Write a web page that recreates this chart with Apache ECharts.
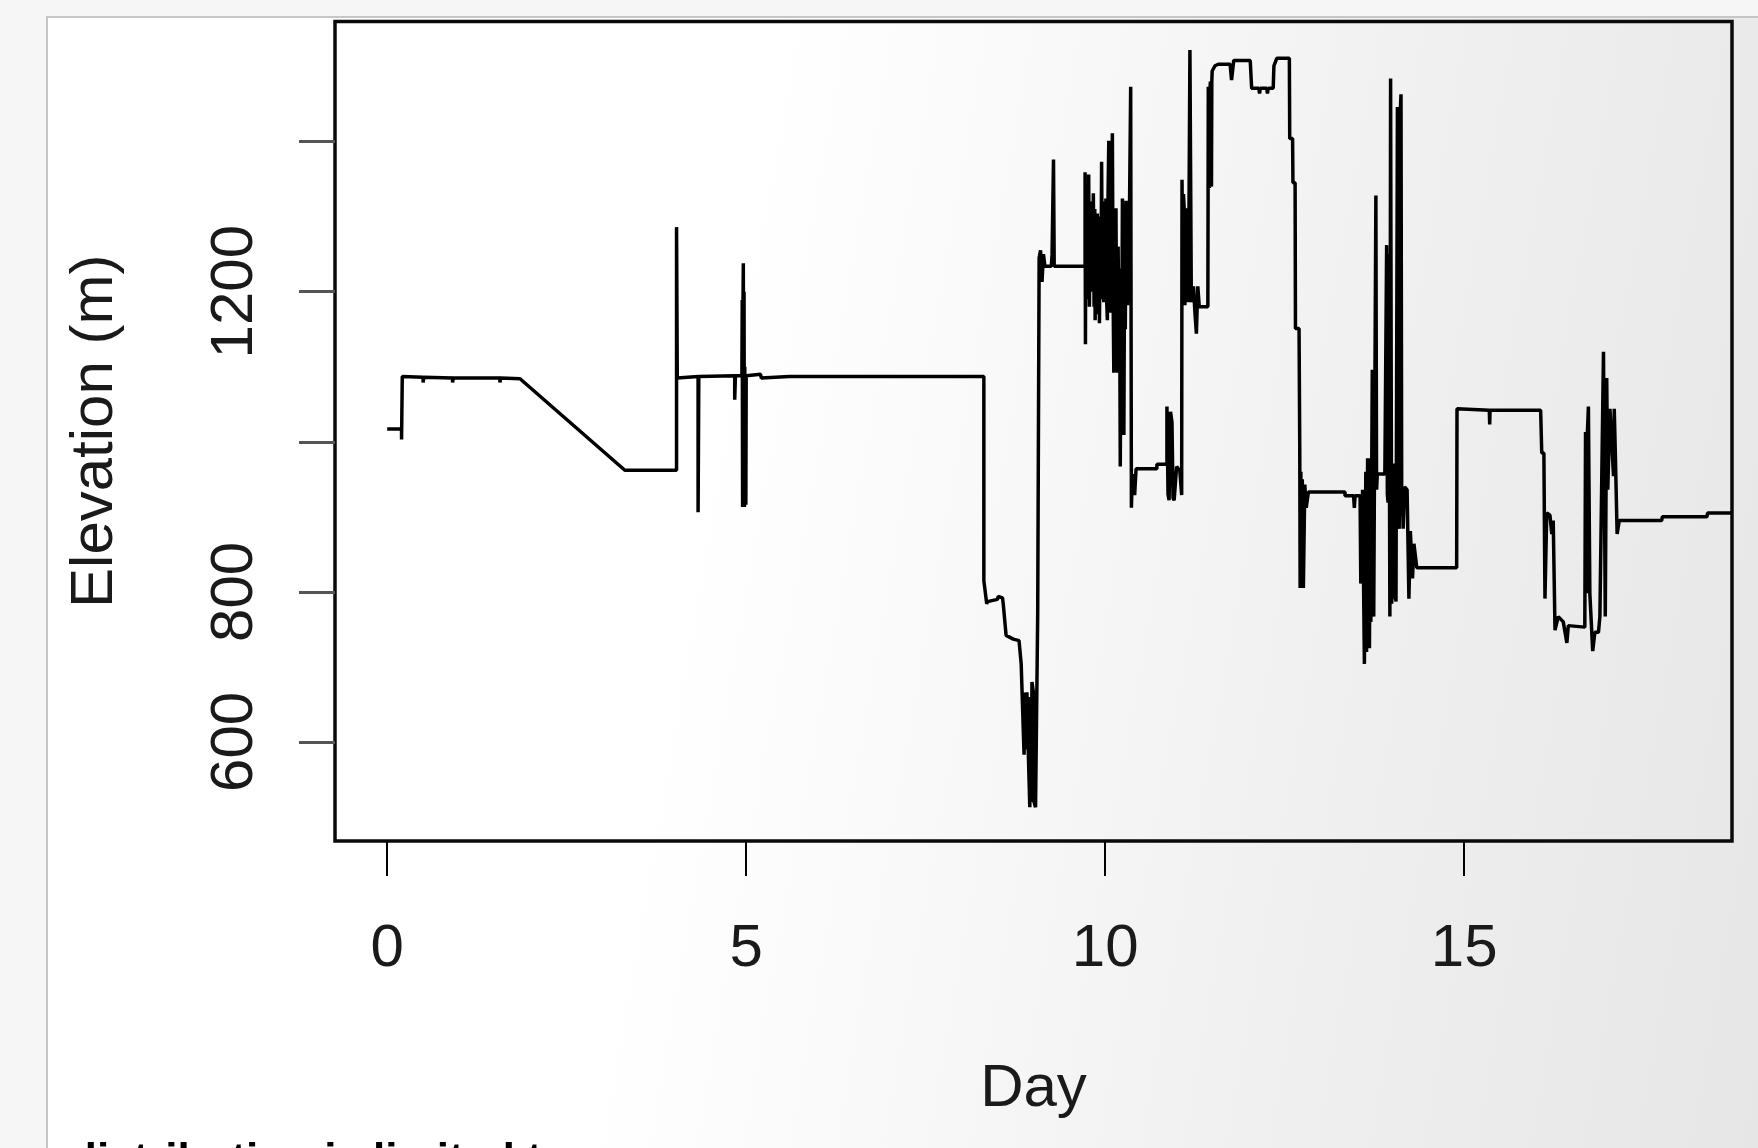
<!DOCTYPE html>
<html>
<head>
<meta charset="utf-8">
<title>Elevation by day</title>
<script src="https://cdn.jsdelivr.net/npm/echarts@6/dist/echarts.min.js"></script>
<style>
  html, body { margin: 0; padding: 0; }
  body { width: 1758px; height: 1148px; position: relative; overflow: hidden; background: #f6f6f6; }
  .sheet {
    position: absolute; left: 46px; top: 16px; right: -10px; bottom: -10px;
    border-left: 2px solid #c6c6c6; border-top: 2px solid #c6c6c6;
    background: linear-gradient(100deg, #ffffff 0%, #ffffff 38%, #f8f8f8 55%, #efefef 75%, #e6e6e6 100%);
  }
  .diagram { position: absolute; left: 0; top: 0; width: 1758px; height: 1148px; }
</style>
</head>
<body>
<div class="sheet"></div>
<div class="diagram"></div>
<script>
// [day, elevation in m]
var days0to4 = [
  [0.00, 1017], [0.20, 1017], [0.20, 1003], [0.21, 1087], [0.50, 1086], [0.50, 1079],
  [0.51, 1086], [0.91, 1085], [0.91, 1079], [0.92, 1085], [1.57, 1085], [1.57, 1079],
  [1.58, 1085], [1.85, 1084], [3.31, 962], [4.03, 962]
];
var days4to8 = [
  [4.03, 1286], [4.04, 1085], [4.33, 1087], [4.33, 906], [4.34, 1087], [4.84, 1088],
  [4.84, 1056], [4.85, 1088], [4.94, 1088], [4.945, 1189], [4.95, 913], [4.955, 1180],
  [4.96, 1238], [4.965, 920], [4.97, 1200], [4.975, 913], [4.98, 1100], [4.985, 930],
  [4.99, 1090], [4.995, 916], [5.00, 1088], [5.20, 1090], [5.21, 1085], [5.60, 1087],
  [8.31, 1087]
];
var days8to10 = [
  [8.31, 815], [8.35, 784], [8.36, 787], [8.50, 790], [8.51, 794], [8.57, 792],
  [8.58, 784], [8.62, 742], [8.72, 737], [8.80, 735], [8.83, 704], [8.87, 583],
  [8.88, 666], [8.89, 590], [8.90, 660], [8.91, 666], [8.93, 583], [8.95, 513],
  [8.96, 660], [8.97, 520], [8.98, 680], [9.00, 666], [9.01, 520], [9.03, 513],
  [9.06, 770], [9.08, 1245], [9.10, 1255], [9.12, 1213], [9.14, 1250], [9.16, 1234],
  [9.25, 1234], [9.26, 1250], [9.28, 1376], [9.29, 1234], [9.72, 1234]
];
var days10to11 = [
  [9.72, 1359], [9.725, 1130], [9.73, 1340], [9.74, 1190], [9.75, 1330], [9.76, 1200],
  [9.77, 1356], [9.78, 1180], [9.79, 1320], [9.80, 1200], [9.81, 1300], [9.82, 1220],
  [9.835, 1331], [9.845, 1180], [9.855, 1310], [9.86, 1162], [9.87, 1290], [9.88, 1200],
  [9.89, 1304], [9.90, 1170], [9.91, 1290], [9.92, 1158], [9.93, 1300], [9.94, 1190],
  [9.95, 1373], [9.96, 1200], [9.97, 1320], [9.98, 1186], [9.99, 1300], [10.00, 1200],
  [10.01, 1324], [10.02, 1190], [10.03, 1162], [10.04, 1330], [10.05, 1401], [10.06, 1190],
  [10.07, 1330], [10.08, 1172], [10.09, 1300], [10.10, 1411], [10.11, 1200], [10.12, 1092],
  [10.13, 1290], [10.14, 1150], [10.15, 1311], [10.16, 1120], [10.17, 1092], [10.18, 1260],
  [10.19, 1150], [10.20, 1231], [10.21, 967], [10.22, 1200], [10.23, 1100], [10.24, 1324],
  [10.25, 1150], [10.26, 1009], [10.27, 1250], [10.28, 1150], [10.29, 1321], [10.30, 1200],
  [10.31, 1182], [10.32, 1240], [10.33, 1227], [10.355, 1473], [10.365, 912], [10.375, 950],
  [10.39, 957], [10.41, 929], [10.43, 964], [10.72, 964], [10.72, 970], [10.86, 970],
  [10.86, 1047], [10.875, 930], [10.89, 922], [10.91, 1040], [10.93, 1026], [10.945, 925],
  [10.96, 922], [10.995, 967], [11.04, 961], [11.065, 929]
];
var days11to13 = [
  [11.07, 1349], [11.08, 1200], [11.09, 1330], [11.10, 1311], [11.11, 1182], [11.12, 1300],
  [11.13, 1190], [11.135, 1311], [11.15, 1200], [11.16, 1186], [11.18, 1522], [11.20, 1186],
  [11.23, 1207], [11.25, 1172], [11.27, 1144], [11.29, 1207], [11.31, 1180], [11.43, 1180],
  [11.436, 1473], [11.445, 1350], [11.45, 1338], [11.46, 1470], [11.465, 1480], [11.47, 1345],
  [11.48, 1340], [11.485, 1480], [11.49, 1494], [11.53, 1501], [11.575, 1503], [11.74, 1503],
  [11.76, 1482], [11.79, 1508], [12.02, 1508], [12.04, 1471], [12.14, 1471], [12.15, 1464],
  [12.16, 1471], [12.25, 1471], [12.26, 1464], [12.27, 1471], [12.34, 1471], [12.35, 1501],
  [12.39, 1511], [12.565, 1511], [12.57, 1404], [12.61, 1404], [12.615, 1345], [12.645, 1345],
  [12.65, 1151], [12.70, 1151], [12.71, 988], [12.715, 805], [12.725, 960], [12.735, 810],
  [12.745, 950], [12.76, 805], [12.78, 943], [12.80, 912], [12.83, 933]
];
var days13to16 = [
  [13.34, 933], [13.34, 928], [13.46, 928], [13.47, 912], [13.48, 928], [13.55, 928],
  [13.56, 811], [13.585, 936], [13.61, 704], [13.63, 960], [13.64, 720], [13.655, 978],
  [13.68, 725], [13.695, 978], [13.70, 760], [13.72, 1096], [13.73, 780], [13.74, 767],
  [13.77, 1328], [13.78, 936], [13.79, 957], [13.895, 957], [13.92, 1262], [13.93, 930],
  [13.94, 919], [13.95, 1250], [13.965, 767], [13.975, 1484], [13.99, 784], [14.00, 960],
  [14.01, 790], [14.02, 971], [14.035, 800], [14.05, 787], [14.07, 1446], [14.08, 900],
  [14.095, 884], [14.11, 1440], [14.12, 1463], [14.13, 900], [14.14, 929], [14.15, 884],
  [14.17, 940], [14.205, 936], [14.23, 791], [14.25, 881], [14.28, 818], [14.30, 864],
  [14.34, 832], [14.895, 832], [14.90, 1044], [15.35, 1042], [15.355, 1023], [15.36, 1042],
  [16.065, 1042]
];
var days16to19 = [
  [16.08, 985], [16.11, 985], [16.125, 791], [16.15, 905], [16.195, 902], [16.22, 877],
  [16.24, 895], [16.265, 749], [16.31, 767], [16.38, 760], [16.43, 732], [16.45, 755],
  [16.68, 753], [16.69, 1013], [16.705, 798], [16.715, 1010], [16.73, 1047], [16.75, 798],
  [16.79, 721], [16.82, 746], [16.87, 746], [16.89, 767], [16.94, 1120], [16.965, 767],
  [16.985, 1085], [17.00, 936], [17.03, 1044], [17.08, 954], [17.09, 1044], [17.105, 985],
  [17.13, 877], [17.16, 895], [17.75, 895], [17.76, 900], [18.38, 900], [18.39, 905],
  [18.73, 905]
];

var xTicks = [0, 5, 10, 15];
var yTicks = [600, 800, 1000, 1200, 1400];
var yLabelValues = [600, 800, 1200];

var track = [].concat(days0to4, days4to8, days8to10, days10to11,
                      days11to13, days13to16, days16to19);

var chart = echarts.init(document.querySelector('.diagram'));

var option = {
  animation: false,
  backgroundColor: 'transparent',
  textStyle: {fontFamily: '"Liberation Sans", Arial, sans-serif'},
  grid: {
    left: 335, right: 26, top: 21.5, bottom: 307,
    show: true, borderColor: '#0a0a0a', borderWidth: 3.5,
    backgroundColor: 'transparent'
  },
  xAxis: {
    type: 'value',
    min: -0.727,
    max: 18.73,
    name: 'Day',
    nameLocation: 'middle',
    nameGap: 218,
    nameMoveOverlap: false,
    nameTextStyle: {fontSize: 60, color: '#1a1a1a'},
    axisLine: {show: false, onZero: false},
    axisTick: {show: true, length: 35, customValues: xTicks, lineStyle: {color: '#000', width: 2}},
    axisLabel: {customValues: xTicks, fontSize: 60, color: '#1a1a1a', margin: 78},
    splitLine: {show: false}
  },
  yAxis: {
    type: 'value',
    min: 468,
    max: 1560,
    name: 'Elevation (m)',
    nameLocation: 'middle',
    nameGap: 210,
    nameRotate: 90,
    nameMoveOverlap: false,
    nameTextStyle: {fontSize: 60, color: '#1a1a1a'},
    axisLine: {show: false, onZero: false},
    axisTick: {show: true, length: 36, customValues: yTicks, lineStyle: {color: '#555', width: 3}},
    axisLabel: {
      customValues: yLabelValues, rotate: 90, fontSize: 60, color: '#1a1a1a', margin: 70,
      formatter: function(v) { return String(v); }
    },
    splitLine: {show: false}
  },
  graphic: [{
    type: 'text',
    left: 70,
    top: 1140,
    style: {
      text: 'distribution is limited to',
      font: 'bold 44px "Liberation Sans", Arial, sans-serif',
      fill: '#000'
    }
  }],
  series: [{
    name: 'Elevation',
    type: 'line',
    data: track,
    showSymbol: false,
    symbol: 'none',
    silent: true,
    lineStyle: {color: '#000', width: 3.5}
  }]
};

chart.setOption(option, true);

window.onresize = function() {
  chart.resize();
};
</script>
</body>
</html>
